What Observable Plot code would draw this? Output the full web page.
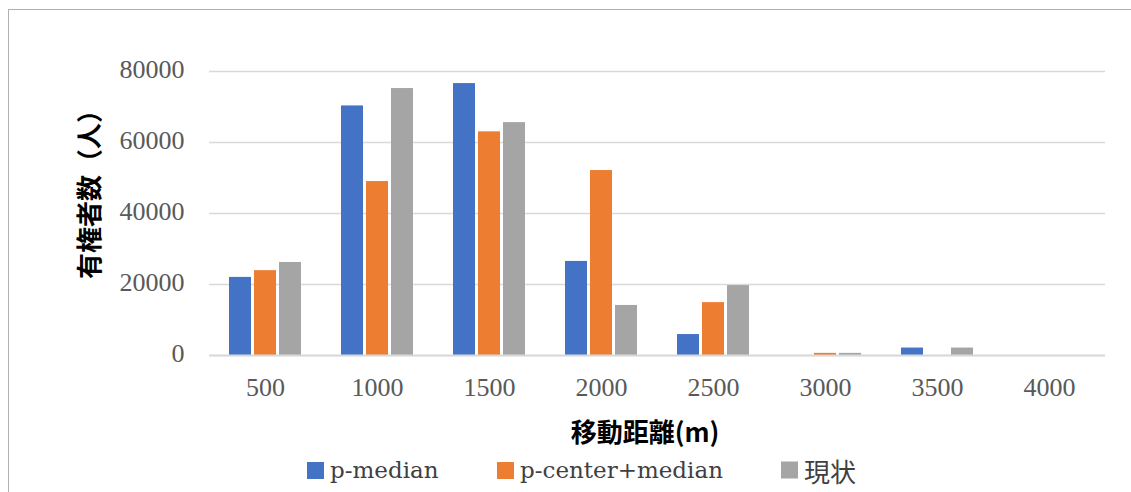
<!DOCTYPE html>
<html>
<head>
<meta charset="utf-8">
<script src="https://cdn.jsdelivr.net/npm/d3@7"></script>
<script src="https://cdn.jsdelivr.net/npm/@observablehq/plot@0.6"></script>
<style>
  html, body { margin: 0; padding: 0; background: #fff; overflow: hidden; }
  #frame { position: absolute; left: 8px; top: 9px; width: 1200px; height: 600px; border: 1.5px solid #b0b0b0; box-sizing: border-box; }
  #chart { position: absolute; left: 0; top: 0; }
  .ttl { position: absolute; font-family: "Noto Sans CJK JP", sans-serif; font-weight: bold; font-size: 26px; color: #000; white-space: nowrap; line-height: 1; }
  #ytitle { left: 88px; top: 188px; transform: translate(-50%, -50%) rotate(-90deg); }
  #xtitle { left: 645px; top: 431px; transform: translate(-50%, -50%); }
  #legend { position: absolute; top: 470px; left: 0; width: 1131px; }
  .li { position: absolute; transform: translateY(-50%); display: flex; align-items: center; font-family: "DejaVu Serif", "Noto Sans CJK JP", serif; font-size: 23px; color: #404040; white-space: nowrap; }
  .sw { width: 17px; height: 17px; margin-right: 6px; }
</style>
</head>
<body>
<div id="frame"></div>
<div id="chart"></div>
<div class="ttl" id="ytitle">有権者数（人）</div>
<div class="ttl" id="xtitle">移動距離(m)</div>
<div id="legend"></div>
<script>
const categories = ["500", "1000", "1500", "2000", "2500", "3000", "3500", "4000"];
const seriesNames = ["p-median", "p-center+median", "現状"];
const seriesColors = ["#4472C4", "#ED7D31", "#A5A5A5"];
const pMedian = [22000, 70300, 76600, 26500, 5900, 0, 2100, 0];
const pCenterMedian = [23900, 49000, 63000, 52100, 14900, 600, 0, 0];
const current = [26200, 75200, 65600, 14100, 19700, 600, 2100, 0];
const yTicks = [0, 20000, 40000, 60000, 80000];

const seriesValues = [pMedian, pCenterMedian, current];
const data = [];
categories.forEach((c, i) => {
  seriesNames.forEach((s, j) => data.push({category: c, series: s, value: seriesValues[j][i]}));
});

const serif = "Liberation Serif";
const chart = Plot.plot({
  width: 1131,
  height: 420,
  marginTop: 71,
  marginBottom: 65,
  marginLeft: 207,
  marginRight: 24,
  style: {fontFamily: serif, fontSize: "26px", background: "transparent"},
  fx: {domain: categories, padding: 0},
  x: {domain: seriesNames, paddingInner: 0.12, paddingOuter: 0.75, axis: null},
  y: {domain: [0, 80000]},
  color: {domain: seriesNames, range: seriesColors},
  marks: [
    Plot.gridY(yTicks, {stroke: "#d9d9d9", strokeOpacity: 1, strokeWidth: 1.5}),
    Plot.barY(data, {fx: "category", x: "series", y: "value", fill: "series"}),
    Plot.ruleY([0], {stroke: "#d9d9d9", strokeWidth: 2}),
    Plot.axisY(yTicks, {tickSize: 0, tickPadding: 25, label: null, fill: "#595959", tickFormat: d => String(d), fontSize: 26, fontFamily: serif, dy: -2}),
    Plot.axisFx({anchor: "bottom", tickSize: 0, tickPadding: 22, label: null, fill: "#595959", fontSize: 26, fontFamily: serif})
  ]
});
document.getElementById("chart").appendChild(chart);

const legendPos = [307, 497, 781];
const legendFontSize = [23, 23, 26];
const legend = document.getElementById("legend");
seriesNames.forEach((s, j) => {
  const item = document.createElement("div");
  item.className = "li";
  item.style.left = legendPos[j] + "px";
  const sw = document.createElement("div");
  sw.className = "sw";
  sw.style.background = seriesColors[j];
  const t = document.createElement("span");
  t.textContent = s;
  t.style.fontSize = legendFontSize[j] + "px";
  item.appendChild(sw);
  item.appendChild(t);
  legend.appendChild(item);
});
</script>
</body>
</html>
